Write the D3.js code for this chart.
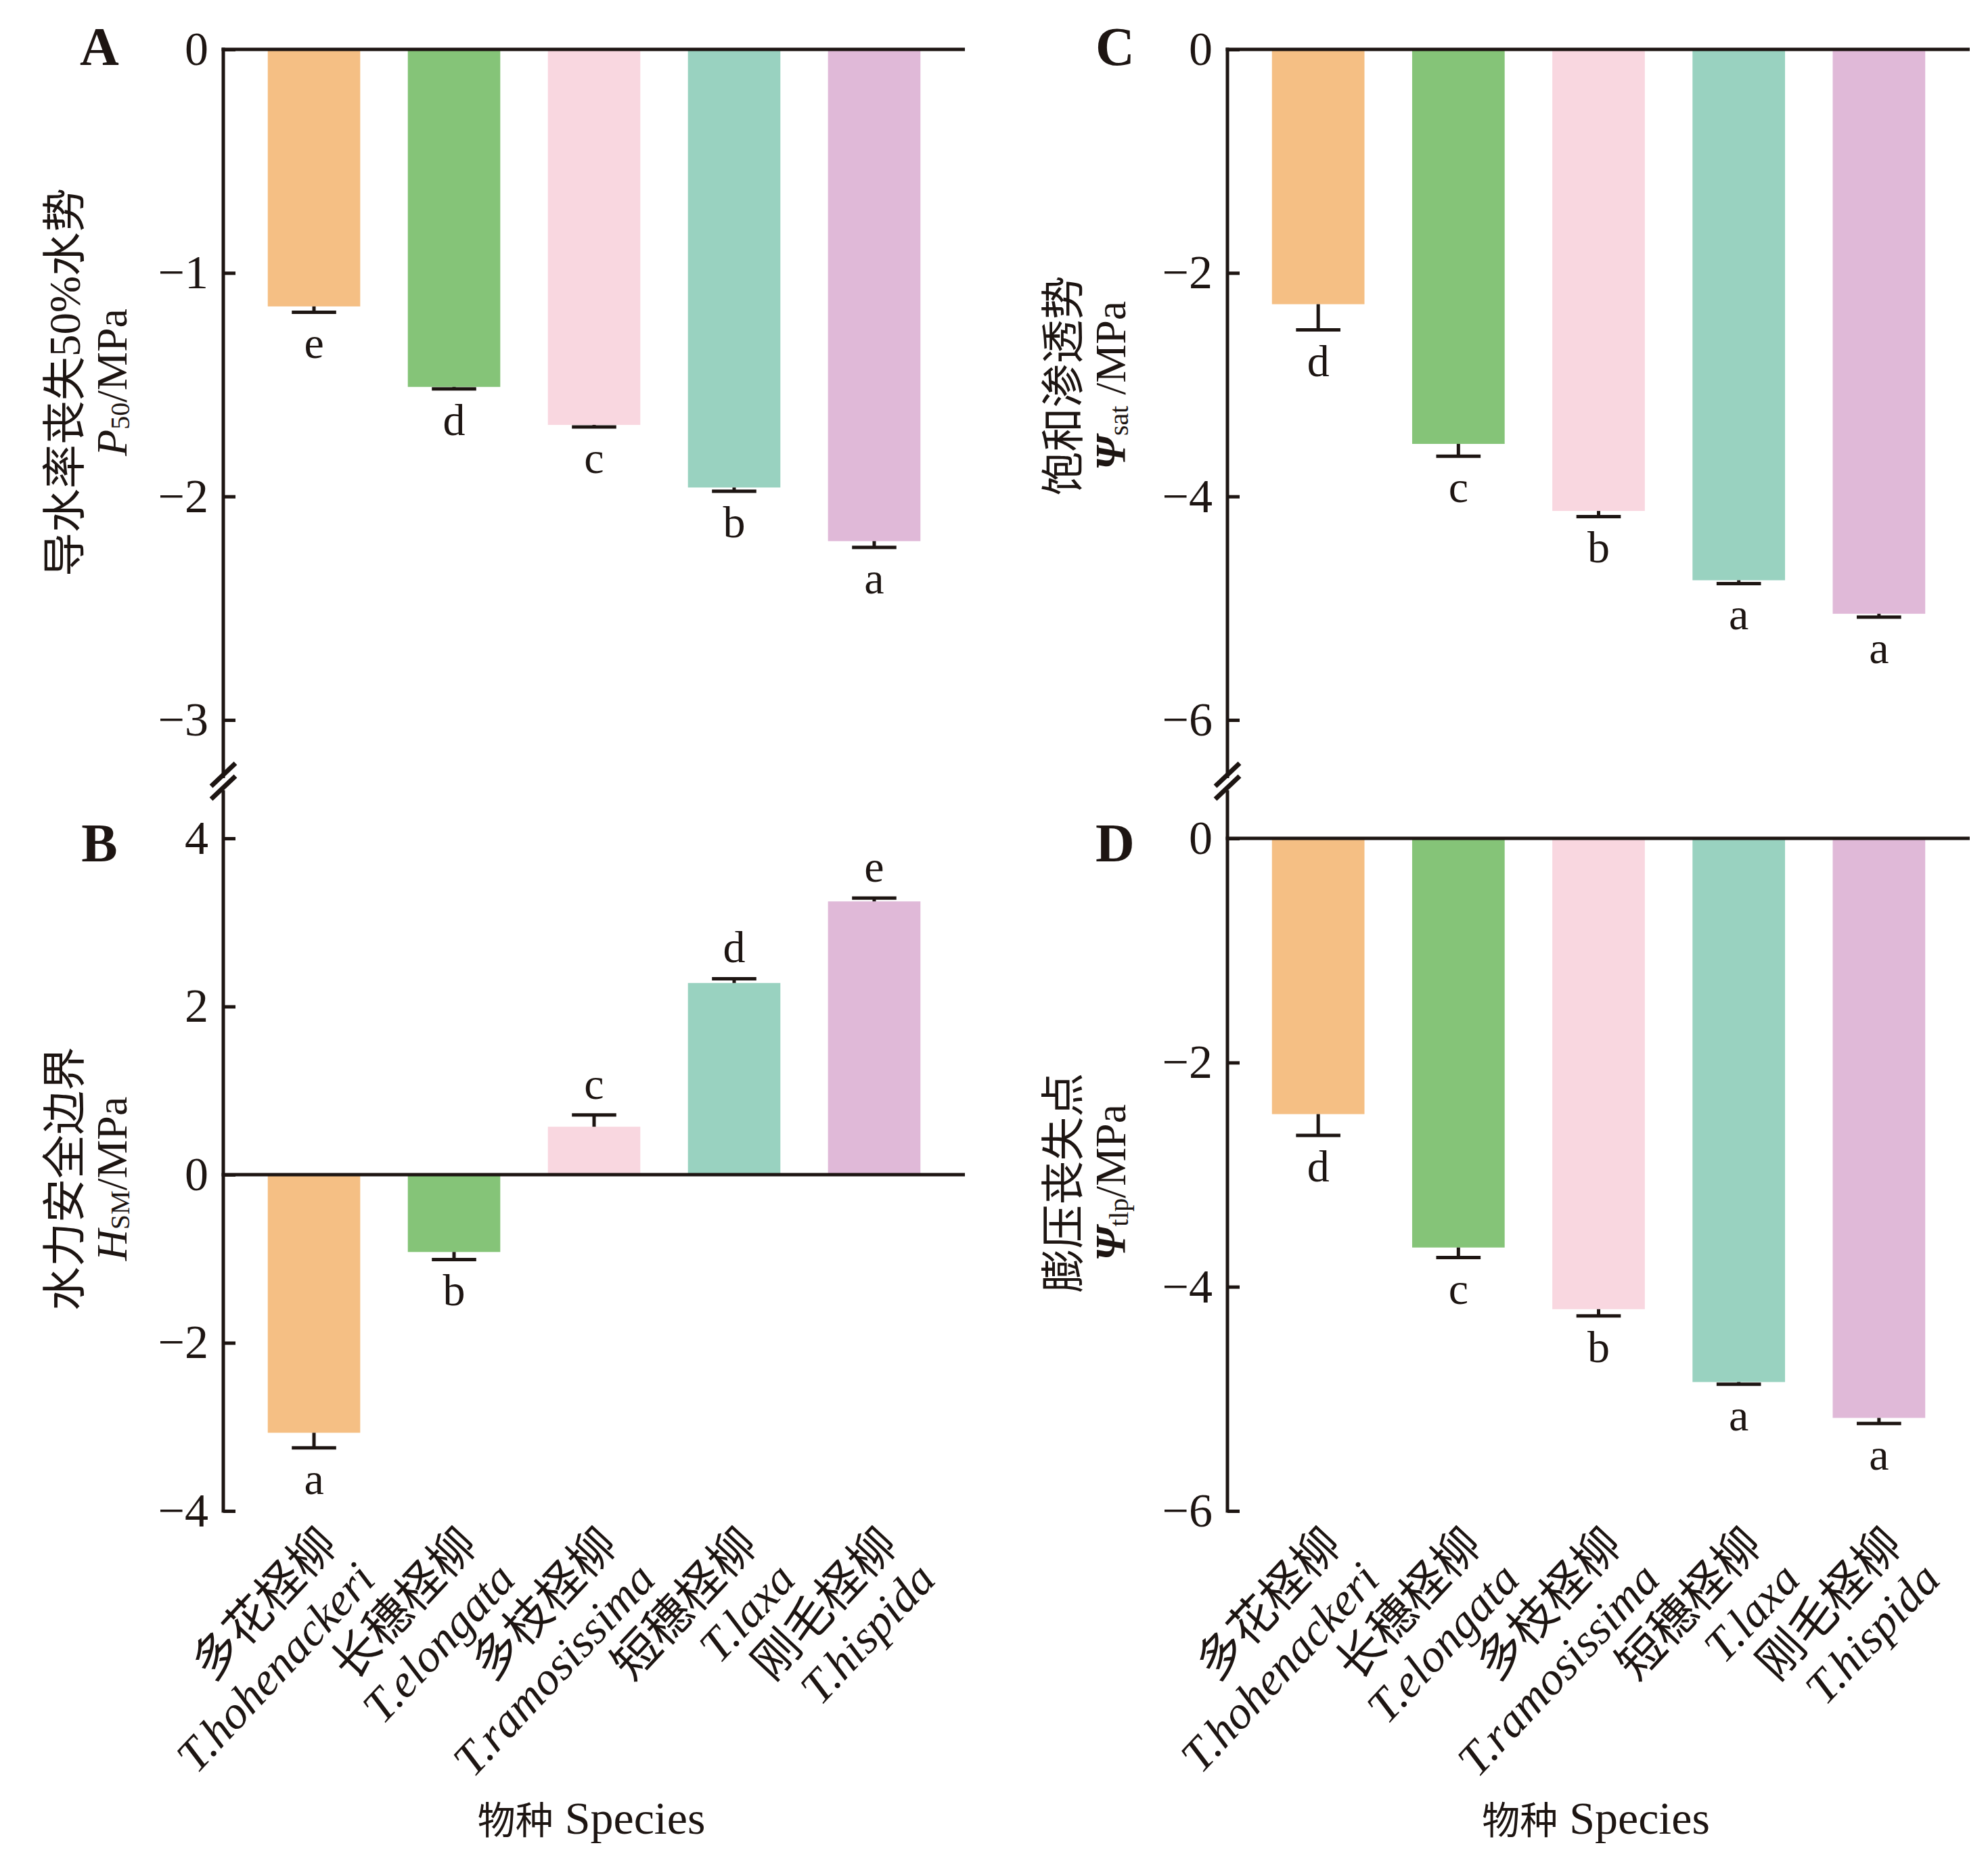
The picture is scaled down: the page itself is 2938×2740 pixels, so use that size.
<!DOCTYPE html>
<html>
<head>
<meta charset="utf-8">
<script src="https://cdn.jsdelivr.net/npm/d3@7"></script>
<style>
  html, body { margin: 0; padding: 0; background: #ffffff; }
  svg { display: block; }
</style>
</head>
<body>
<svg id="chart" width="2938" height="2740"></svg>
<script>
// ---------------- data ----------------
const speciesCN = ["多花柽柳", "长穗柽柳", "多枝柽柳", "短穗柽柳", "刚毛柽柳"];
const speciesLatin = ["T.hohenackeri", "T.elongata", "T.ramosissima", "T.laxa", "T.hispida"];
const barColors = ["#F5BF84", "#85C478", "#F9D7E0", "#99D2C0", "#E0B9D8"];

// A: P50
const p50Mean = [-1.15, -1.51, -1.68, -1.96, -2.20];
const p50Err = [0.026, 0.009, 0.009, 0.017, 0.028];
const p50Letters = ["e", "d", "c", "b", "a"];
const p50Ticks = [0, -1, -2, -3];

// B: HSM
const hsmMean = [-3.07, -0.92, 0.57, 2.28, 3.25];
const hsmErr = [0.18, 0.09, 0.14, 0.05, 0.04];
const hsmLetters = ["a", "b", "c", "d", "e"];
const hsmTicks = [4, 2, 0, -2, -4];

// C: Psi sat
const satMean = [-2.28, -3.53, -4.13, -4.75, -5.05];
const satErr = [0.23, 0.11, 0.05, 0.03, 0.03];
const satLetters = ["d", "c", "b", "a", "a"];
const satTicks = [0, -2, -4, -6];

// D: Psi tlp
const tlpMean = [-2.46, -3.65, -4.20, -4.85, -5.17];
const tlpErr = [0.19, 0.09, 0.06, 0.02, 0.05];
const tlpLetters = ["d", "c", "b", "a", "a"];
const tlpTicks = [0, -2, -4, -6];

// ---------------- drawing ----------------
const svg = d3.select("#chart");
const INK = "#1d1512";
const SERIF = "'Liberation Serif', 'Times New Roman', 'Noto Sans CJK SC', serif";
const CJK = "'Liberation Serif', 'Noto Sans CJK SC', serif";
const LW = 5;

const fmt = d => d < 0 ? "\u2212" + Math.abs(d) : String(d);

function panel(cfg) {
  const g = svg.append("g");
  const x = d3.scaleBand().domain(speciesCN).range([cfg.x0, cfg.x1])
    .paddingInner(0.34).paddingOuter(0.3175);
  const y = d3.scaleLinear().domain(cfg.domain).range(cfg.range);
  const bw = x.bandwidth();
  const rows = speciesCN.map((s, i) => ({ s, i, v: cfg.mean[i], e: cfg.err[i], l: cfg.letters[i] }));

  // bars
  g.selectAll("rect.bar").data(rows).enter().append("rect")
    .attr("x", d => x(d.s))
    .attr("width", bw)
    .attr("y", d => Math.min(y(0), y(d.v)))
    .attr("height", d => Math.abs(y(d.v) - y(0)))
    .attr("fill", d => barColors[d.i]);

  // error bars
  const capW = bw * 0.48;
  const errEnd = d => d.v < 0 ? d.v - d.e : d.v + d.e;
  g.selectAll("line.stem").data(rows).enter().append("line")
    .attr("x1", d => x(d.s) + bw / 2).attr("x2", d => x(d.s) + bw / 2)
    .attr("y1", d => y(d.v)).attr("y2", d => y(errEnd(d)))
    .attr("stroke", INK).attr("stroke-width", LW);
  g.selectAll("line.cap").data(rows).enter().append("line")
    .attr("x1", d => x(d.s) + bw / 2 - capW / 2).attr("x2", d => x(d.s) + bw / 2 + capW / 2)
    .attr("y1", d => y(errEnd(d))).attr("y2", d => y(errEnd(d)))
    .attr("stroke", INK).attr("stroke-width", LW);

  // letters
  g.selectAll("text.sig").data(rows).enter().append("text")
    .attr("x", d => x(d.s) + bw / 2)
    .attr("y", d => d.v < 0 ? y(errEnd(d)) + 68 : y(errEnd(d)) - 24)
    .attr("text-anchor", "middle")
    .attr("font-family", SERIF).attr("font-size", 66).attr("fill", INK)
    .text(d => d.l);

  // zero line
  g.append("line")
    .attr("x1", cfg.x0 - LW / 2).attr("x2", cfg.x1)
    .attr("y1", y(0)).attr("y2", y(0))
    .attr("stroke", INK).attr("stroke-width", LW);

  // y axis ticks (inward)
  const ax = g.append("g").attr("transform", `translate(${cfg.x0},0)`)
    .call(d3.axisLeft(y).tickValues(cfg.ticks).tickSize(-18).tickPadding(22).tickFormat(fmt));
  ax.select(".domain").remove();
  ax.selectAll(".tick line").attr("stroke", INK).attr("stroke-width", LW);
  ax.selectAll(".tick text").attr("font-family", SERIF).attr("font-size", 70).attr("fill", INK);

  // axis spine
  g.append("line")
    .attr("x1", cfg.x0).attr("x2", cfg.x0)
    .attr("y1", cfg.spine[0]).attr("y2", cfg.spine[1])
    .attr("stroke", INK).attr("stroke-width", LW);

  // panel letter
  g.append("text").attr("x", cfg.letterX).attr("y", cfg.letterY)
    .attr("text-anchor", "middle").attr("font-family", SERIF)
    .attr("font-weight", "bold").attr("font-size", 80).attr("fill", INK)
    .text(cfg.name);

  // y title (two lines, rotated)
  const cy = cfg.titleY;
  g.append("text")
    .attr("transform", `translate(${cfg.x0 - cfg.t1dx},${cy}) rotate(-90)`)
    .attr("text-anchor", "middle").attr("dominant-baseline", "central")
    .attr("font-family", CJK).attr("font-size", 65).attr("fill", INK)
    .text(cfg.title1);
  const t2 = g.append("text")
    .attr("transform", `translate(${cfg.x0 - cfg.t2dx},${cy}) rotate(-90)`)
    .attr("text-anchor", "middle").attr("dominant-baseline", "central")
    .attr("font-family", SERIF).attr("font-size", 64).attr("fill", INK);
  cfg.title2(t2);

  // x labels
  if (cfg.xlabels) {
    const lab = g.selectAll("g.xl").data(rows).enter().append("g")
      .attr("transform", d => `translate(${x(d.s) + bw / 2 + 38},${cfg.range[1] + 52}) rotate(-47)`);
    lab.append("text").attr("text-anchor", "end")
      .attr("font-family", CJK).attr("font-size", 69).attr("fill", INK)
      .text(d => d.s);
    lab.append("text").attr("text-anchor", "end").attr("y", 76)
      .attr("font-family", SERIF).attr("font-style", "italic").attr("font-size", 69).attr("fill", INK)
      .text(d => speciesLatin[d.i]);
    const xt = g.append("text").attr("x", (cfg.x0 + cfg.x1) / 2 - 4).attr("y", 2710)
      .attr("text-anchor", "middle").attr("font-family", CJK).attr("fill", INK);
    xt.append("tspan").attr("font-size", 56).text("物种");
    xt.append("tspan").attr("font-size", 68).text(" Species");
  }
  return g;
}

function breakMark(x0) {
  const g = svg.append("g");
  g.append("rect").attr("x", x0 - 6).attr("y", 1150).attr("width", 12).attr("height", 18).attr("fill", "#fff");
  [0, 19].forEach(off => {
    g.append("line")
      .attr("x1", x0 - 18).attr("y1", 1162 + off)
      .attr("x2", x0 + 18).attr("y2", 1128 + off)
      .attr("stroke", INK).attr("stroke-width", 7);
  });
}

const left1 = 330, right1 = 1426, left2 = 1814, right2 = 2911;

panel({
  name: "A", x0: left1, x1: right1, domain: [0, -3], range: [73, 1064],
  mean: p50Mean, err: p50Err, letters: p50Letters, ticks: p50Ticks,
  spine: [73 - LW / 2, 1152], letterX: 147, letterY: 96, titleY: 565, t1dx: 234, t2dx: 165,
  title1: "导水率丧失50%水势",
  title2: t => {
    t.append("tspan").attr("font-style", "italic").text("P");
    t.append("tspan").attr("font-size", 40).attr("dy", 12).text("50");
    t.append("tspan").attr("dy", -12).text("/MPa");
  }
});
panel({
  name: "B", x0: left1, x1: right1, domain: [4, -4], range: [1239, 2233],
  mean: hsmMean, err: hsmErr, letters: hsmLetters, ticks: hsmTicks,
  spine: [1166, 2233 + LW / 2], letterX: 147, letterY: 1273, titleY: 1742, t1dx: 234, t2dx: 165,
  title1: "水力安全边界", xlabels: true,
  title2: t => {
    t.append("tspan").attr("font-style", "italic").text("H");
    t.append("tspan").attr("font-size", 40).attr("dy", 12).text("SM");
    t.append("tspan").attr("dy", -12).text("/MPa");
  }
});
panel({
  name: "C", x0: left2, x1: right2, domain: [0, -6], range: [73, 1064],
  mean: satMean, err: satErr, letters: satLetters, ticks: satTicks,
  spine: [73 - LW / 2, 1152], letterX: 1648, letterY: 96, titleY: 570, t1dx: 242, t2dx: 173,
  title1: "饱和渗透势",
  title2: t => {
    t.append("tspan").attr("font-style", "italic").attr("font-weight", "bold").text("Ψ");
    t.append("tspan").attr("font-size", 40).attr("dy", 12).text("sat");
    t.append("tspan").attr("dy", -12).text(" /MPa");
  }
});
panel({
  name: "D", x0: left2, x1: right2, domain: [0, -6], range: [1239, 2233],
  mean: tlpMean, err: tlpErr, letters: tlpLetters, ticks: tlpTicks,
  spine: [1166, 2233 + LW / 2], letterX: 1648, letterY: 1273, titleY: 1748, t1dx: 242, t2dx: 173,
  title1: "膨压丧失点", xlabels: true,
  title2: t => {
    t.append("tspan").attr("font-style", "italic").attr("font-weight", "bold").text("Ψ");
    t.append("tspan").attr("font-size", 40).attr("dy", 12).text("tlp");
    t.append("tspan").attr("dy", -12).text("/MPa");
  }
});
breakMark(left1);
breakMark(left2);
</script>
</body>
</html>
